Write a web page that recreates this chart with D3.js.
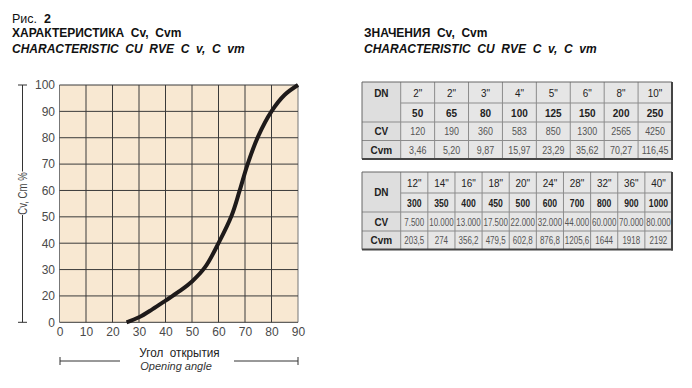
<!DOCTYPE html>
<html><head><meta charset="utf-8">
<script src="https://cdn.jsdelivr.net/npm/d3@7"></script>
<style>
html,body{margin:0;padding:0;background:#fff;}
svg{display:block;font-family:"Liberation Sans",Arial,Helvetica,sans-serif;}
text{white-space:pre;}
</style></head>
<body>
<svg id="c" width="692" height="388"></svg>
<script>
// ---- data ----
const angleTicks = [0,10,20,30,40,50,60,70,80,90];
const valueTicks = [0,20,30,40,50,60,70,80,90,100];
const curveAngle = [25.3,30,35,40,45,50,55,60,65,68,71,75,80,85,90];
const curveValue = [0,3.8,9.8,16.4,21.6,25.5,31,40,50.6,60,70,80.6,90,96.3,100];

const table1Inch = ['2"','2"','3"','4"','5"','6"','8"','10"'];
const table1DN   = ['50','65','80','100','125','150','200','250'];
const table1Cv   = ['120','190','360','583','850','1300','2565','4250'];
const table1Cvm  = ['3,46','5,20','9,87','15,97','23,29','35,62','70,27','116,45'];

const table2Inch = ['12"','14"','16"','18"','20"','24"','28"','32"','36"','40"'];
const table2DN   = ['300','350','400','450','500','600','700','800','900','1000'];
const table2Cv   = ['7.500','10.000','13.000','17.500','22.000','32.000','44.000','60.000','70.000','80.000'];
const table2Cvm  = ['203,5','274','356,2','479,5','602,8','876,8','1205,6','1644','1918','2192'];

// ---- chart ----
const svg = d3.select('#c');
const L=59.5, R=298, T=85, B=322.3;
const x = d3.scaleLinear().domain([0,90]).range([L,R]);
const y = d3.scaleLinear().domain([0,20,100]).range([B, B-(B-T)/9, T]);

function stext(g, str, cx, by, o){
  o = o||{};
  return g.append('text')
    .attr('transform',`translate(${cx},${by}) rotate(${o.rot||0}) scale(${o.sx||1},1)`)
    .attr('text-anchor', o.anchor||'middle')
    .attr('font-size', o.size||11)
    .attr('font-weight', o.weight||'normal')
    .attr('font-style', o.style||'normal')
    .attr('fill', o.fill||'#222')
    .text(str);
}

// titles
const tl = svg.append('text').attr('x',12).attr('y',23).attr('font-size',12.5).attr('fill','#111');
tl.append('tspan').text('Рис.  ');
tl.append('tspan').attr('font-weight','bold').text('2');
svg.append('text').attr('x',12).attr('y',37).attr('font-size',12).attr('font-weight','bold').attr('fill','#111').text('ХАРАКТЕРИСТИКА  Cv,  Cvm');
svg.append('text').attr('x',12).attr('y',52.5).attr('font-size',12).attr('font-weight','bold').attr('font-style','italic').attr('fill','#111').text('CHARACTERISTIC  CU  RVE  C  v,  C  vm');
svg.append('text').attr('x',364).attr('y',37).attr('font-size',12).attr('font-weight','bold').attr('fill','#111').text('ЗНАЧЕНИЯ  Cv,  Cvm');
svg.append('text').attr('x',364).attr('y',52.5).attr('font-size',12).attr('font-weight','bold').attr('font-style','italic').attr('fill','#111').text('CHARACTERISTIC  CU  RVE  C  v,  C  vm');

// plot background
svg.append('rect').attr('x',L).attr('y',T).attr('width',R-L).attr('height',B-T).attr('fill','#f8e8d2');

// grid
const grid = svg.append('g').attr('stroke','#3a3a3a').attr('stroke-width',1);
grid.selectAll('line.v').data(angleTicks).join('line')
  .attr('x1',d=>x(d)).attr('x2',d=>x(d)).attr('y1',T).attr('y2',B)
  .attr('stroke',(d,i)=> (d===0||d===90)?'#777':'#3a3a3a');
grid.selectAll('line.h').data(valueTicks).join('line')
  .attr('x1',L).attr('x2',R).attr('y1',d=>y(d)).attr('y2',d=>y(d));

// axes
const ax = svg.append('g').attr('transform',`translate(0,${B})`)
  .call(d3.axisBottom(x).tickValues(angleTicks).tickSize(0).tickPadding(5.5));
const ay = svg.append('g').attr('transform',`translate(${L},0)`)
  .call(d3.axisLeft(y).tickValues(valueTicks).tickSize(0).tickPadding(4.5));
[ax,ay].forEach(a=>{
  a.select('.domain').remove();
  a.selectAll('text').attr('font-size',12).attr('fill','#4a4a4a')
   .attr('font-family','"Liberation Sans",Arial,sans-serif');
});

// curve
const pts = curveAngle.map((a,i)=>[a,curveValue[i]]);
svg.append('path').datum(pts)
  .attr('d', d3.line().x(d=>x(d[0])).y(d=>y(d[1])).curve(d3.curveCatmullRom.alpha(0.5)))
  .attr('fill','none').attr('stroke','#1e1a1a').attr('stroke-width',4).attr('stroke-linecap','butt');

// y-axis title bracket
const br = svg.append('g').attr('stroke','#333').attr('stroke-width',1);
br.append('line').attr('x1',22.5).attr('x2',22.5).attr('y1',T).attr('y2',171.5);
br.append('line').attr('x1',22.5).attr('x2',22.5).attr('y1',215).attr('y2',B);
br.append('line').attr('x1',18).attr('x2',27).attr('y1',T).attr('y2',T);
br.append('line').attr('x1',18).attr('x2',27).attr('y1',B).attr('y2',B);
stext(svg,'Cv, Cm %',26.8,193.5,{size:12,sx:0.8,rot:-90,fill:'#444'});

// x-axis title bracket
br.append('line').attr('x1',60).attr('x2',120).attr('y1',361).attr('y2',361);
br.append('line').attr('x1',234).attr('x2',298).attr('y1',361).attr('y2',361);
br.append('line').attr('x1',60).attr('x2',60).attr('y1',357).attr('y2',365);
br.append('line').attr('x1',298).attr('x2',298).attr('y1',357).attr('y2',365);
stext(svg,'Угол  открытия',179.5,356.5,{size:13,sx:0.9,fill:'#222'});
stext(svg,'Opening angle',176,369.5,{size:11,style:'italic',fill:'#333'});

// ---- tables ----
function drawTable(x0, x1, firstW, rows, inch, dn, cv, cvm, o){
  const g = svg.append('g');
  const n = inch.length;
  const cols = d3.scaleBand().domain(d3.range(n)).range([x0+firstW, x1]);
  const cw = cols.bandwidth();
  const y0 = rows[0], y1 = rows[rows.length-1];
  g.append('rect').attr('x',x0).attr('y',y0).attr('width',x1-x0).attr('height',y1-y0).attr('fill','#e6e6e6');
  g.append('rect').attr('x',x0).attr('y',y0).attr('width',firstW).attr('height',y1-y0).attr('fill','#dedede');
  const ln = g.append('g').attr('stroke','#8c8c8c').attr('stroke-width',1);
  d3.range(n).forEach(i=>{
    ln.append('line').attr('x1',cols(i)).attr('x2',cols(i)).attr('y1',y0).attr('y2',y1);
  });
  ln.append('line').attr('x1',x0+firstW).attr('x2',x1).attr('y1',rows[1]).attr('y2',rows[1]);
  ln.append('line').attr('x1',x0).attr('x2',x1).attr('y1',rows[2]).attr('y2',rows[2]);
  ln.append('line').attr('x1',x0).attr('x2',x1).attr('y1',rows[3]).attr('y2',rows[3]);
  g.append('line').attr('x1',x0).attr('x2',x1).attr('y1',y0).attr('y2',y0).attr('stroke','#666');
  g.append('line').attr('x1',x0).attr('x2',x0).attr('y1',y0).attr('y2',y1).attr('stroke','#666');
  g.append('line').attr('x1',x1).attr('x2',x1).attr('y1',y0).attr('y2',y1+1).attr('stroke','#444').attr('stroke-width',2);
  g.append('line').attr('x1',x0).attr('x2',x1+1).attr('y1',y1).attr('y2',y1).attr('stroke','#444').attr('stroke-width',2);
  const mid = (a,b)=> (a+b)/2;
  const bl = r => mid(rows[r],rows[r+1])+4;
  const fc = x0+firstW/2;
  stext(g,'DN',fc, o.dnCenter ? mid(rows[0],rows[2])+3.5 : bl(0),{size:10.5,weight:'bold',sx:0.95});
  stext(g,'CV',fc,bl(2),{size:10.5,weight:'bold',sx:0.95});
  stext(g,'Cvm',fc,bl(3),{size:10.5,weight:'bold',sx:0.95});
  for(let i=0;i<n;i++){
    const cx = cols(i)+cw/2;
    stext(g,inch[i],cx,bl(0),{size:11,sx:0.9,fill:'#222'});
    stext(g,dn[i],cx,bl(1),{size:10.5,weight:'bold',sx:o.hsx,fill:'#222'});
    stext(g,cv[i],cx,bl(2),{size:10.5,sx:o.vsx,fill:'#555'});
    stext(g,cvm[i],cx,bl(3),{size:10.5,sx:o.vsx,fill:'#555'});
  }
}
drawTable(362,672,38.7,[82,103,122,140.5,159],table1Inch,table1DN,table1Cv,table1Cvm,{hsx:0.95,vsx:0.85,dnCenter:false});
drawTable(362,672,38.7,[172,193,212,231,249.5],table2Inch,table2DN,table2Cv,table2Cvm,{hsx:0.82,vsx:0.76,dnCenter:true});
</script>
</body></html>
